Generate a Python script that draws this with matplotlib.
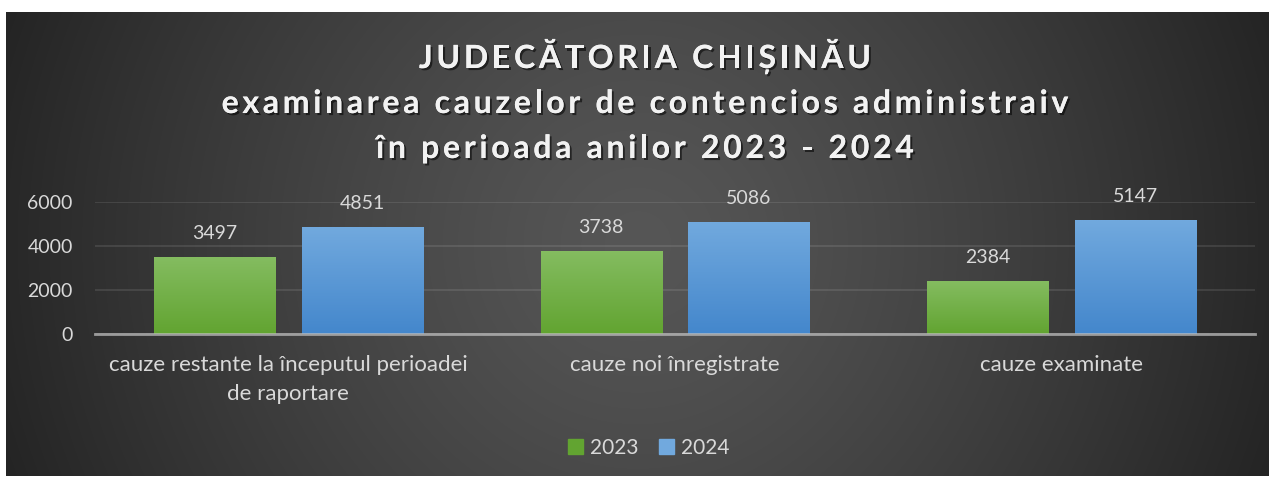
"""Bar chart: Judecătoria Chișinău, contencios administrativ 2023 - 2024."""

import textwrap

import matplotlib

matplotlib.use("Agg")
import matplotlib.pyplot as plt
import numpy as np
from matplotlib import patheffects
from matplotlib.colors import to_rgb
from matplotlib.font_manager import FontProperties, findfont, get_font

# ---------------------------------------------------------------------------
# Data
# ---------------------------------------------------------------------------
TITLE_LINES = [
    "JUDECĂTORIA CHIȘINĂU",
    "examinarea cauzelor de contencios administraiv",
    "în perioada anilor 2023 - 2024",
]
CATEGORIES = [
    "cauze restante la începutul perioadei de raportare",
    "cauze noi înregistrate",
    "cauze examinate",
]
SERIES_LABELS = ["2023", "2024"]
VALUES_2023 = [3497, 3738, 2384]
VALUES_2024 = [4851, 5086, 5147]
Y_TICKS = [0, 2000, 4000, 6000]

# ---------------------------------------------------------------------------
# Style
# ---------------------------------------------------------------------------
W_PX, H_PX, DPI = 1273, 478, 100
FONT = ["Lato", "DejaVu Sans"]
TEXT_COLOR = "#d9d9d9"
GREEN_GRAD = ("#84bc60", "#62a431")
BLUE_GRAD = ("#71a9de", "#4487cc")
BAR_WIDTH = 0.313
BAR_OFFSET = 0.191

plt.rcParams["font.family"] = FONT


def draw_tracked(fig, text, x_center, baseline, size, tracking, **kw):
    """Draw text char by char (pixel coords) with extra letter spacing."""
    prop = FontProperties(family="Lato", weight="bold", size=size)
    font = get_font(findfont(prop))
    font.set_size(size, DPI)
    advances = []
    for ch in text:
        glyph = font.load_char(ord(ch))
        advances.append(glyph.linearHoriAdvance / 65536)
    total = sum(advances) + tracking * (len(text) - 1)
    x = x_center - total / 2
    for ch, adv in zip(text, advances):
        fig.text(x / W_PX, 1 - baseline / H_PX, ch, fontproperties=prop,
                 ha="left", va="baseline", **kw)
        x += adv + tracking


fig = plt.figure(figsize=(W_PX / DPI, H_PX / DPI), dpi=DPI, facecolor="white")

# dark radial-gradient chart panel
bg = fig.add_axes([6 / W_PX, 2 / H_PX, 1262 / W_PX, 464 / H_PX], zorder=-5)
yy, xx = np.mgrid[0:464, 0:1262]
r = np.hypot(xx - 631, yy - 232) / np.hypot(631, 232)
r = np.clip(r, 0, 1) ** 1.3
c_in, c_out = np.array(to_rgb("#565656")), np.array(to_rgb("#242424"))
bg.imshow(c_in + (c_out - c_in) * r[..., None], aspect="auto",
          interpolation="bilinear")
bg.set_axis_off()

ax = fig.add_axes([95 / W_PX, 144 / H_PX, 1160 / W_PX, 132 / H_PX])
ax.set_facecolor("none")

x = np.arange(len(CATEGORIES))
bars_a = ax.bar(x - BAR_OFFSET, VALUES_2023, BAR_WIDTH, color=GREEN_GRAD[1],
                label=SERIES_LABELS[0], zorder=1)
bars_b = ax.bar(x + BAR_OFFSET, VALUES_2024, BAR_WIDTH, color=BLUE_GRAD[1],
                label=SERIES_LABELS[1], zorder=1)

# vertical gradient fill for every bar
for bars, (top, bottom) in ((bars_a, GREEN_GRAD), (bars_b, BLUE_GRAD)):
    t = np.linspace(0, 1, 64)[:, None, None]
    grad = np.array(to_rgb(top)) * (1 - t) + np.array(to_rgb(bottom)) * t
    for patch in bars:
        x0, w, h = patch.get_x(), patch.get_width(), patch.get_height()
        ax.imshow(grad, extent=[x0, x0 + w, 0, h], aspect="auto", zorder=2,
                  interpolation="bilinear")
        patch.set_alpha(0)
ax.set_xlim(-0.5, len(CATEGORIES) - 0.5)
ax.set_ylim(0, Y_TICKS[-1])
ax.set_aspect("auto")

for bars in (bars_a, bars_b):
    ax.bar_label(bars, padding=11, fontsize=14, color=TEXT_COLOR)

ax.set_yticks(Y_TICKS)
ax.set_yticklabels([str(v) for v in Y_TICKS])
ax.set_xticks(x)
ax.set_xticklabels([textwrap.fill(c, 37) for c in CATEGORIES],
                   linespacing=1.6, fontsize=16)
ax.tick_params(axis="both", length=0, labelcolor=TEXT_COLOR)
ax.tick_params(axis="y", pad=16, labelsize=14)
ax.tick_params(axis="x", pad=15)

ax.grid(axis="y", color="#ffffff", alpha=0.1, linewidth=1.4)
ax.set_axisbelow(True)
for side in ("top", "left", "right"):
    ax.spines[side].set_visible(False)
ax.spines["bottom"].set_color("#bfbfbf")
ax.spines["bottom"].set_alpha(0.75)
ax.spines["bottom"].set_linewidth(2)
ax.spines["bottom"].set_zorder(3)

handles = [plt.Rectangle((0, 0), 1, 1, color=GREEN_GRAD[1]),
           plt.Rectangle((0, 0), 1, 1, color=BLUE_GRAD[0])]
fig.legend(handles, SERIES_LABELS, loc="center", bbox_to_anchor=(649 / W_PX, 1 - 448 / H_PX),
           ncol=2, frameon=False, fontsize=15, labelcolor=TEXT_COLOR,
           handlelength=0.7, handleheight=0.7, handletextpad=0.35,
           columnspacing=1.0)

shadow = [patheffects.withSimplePatchShadow(offset=(1.5, -1.5), shadow_rgbFace="black", alpha=0.55),
          patheffects.Normal()]
for line, baseline in zip(TITLE_LINES, (68, 113, 158)):
    draw_tracked(fig, line, 645, baseline, 23, 3.7, color="#f2f2f2",
                 path_effects=shadow)

fig.savefig("out.png", dpi=DPI, facecolor="white")
